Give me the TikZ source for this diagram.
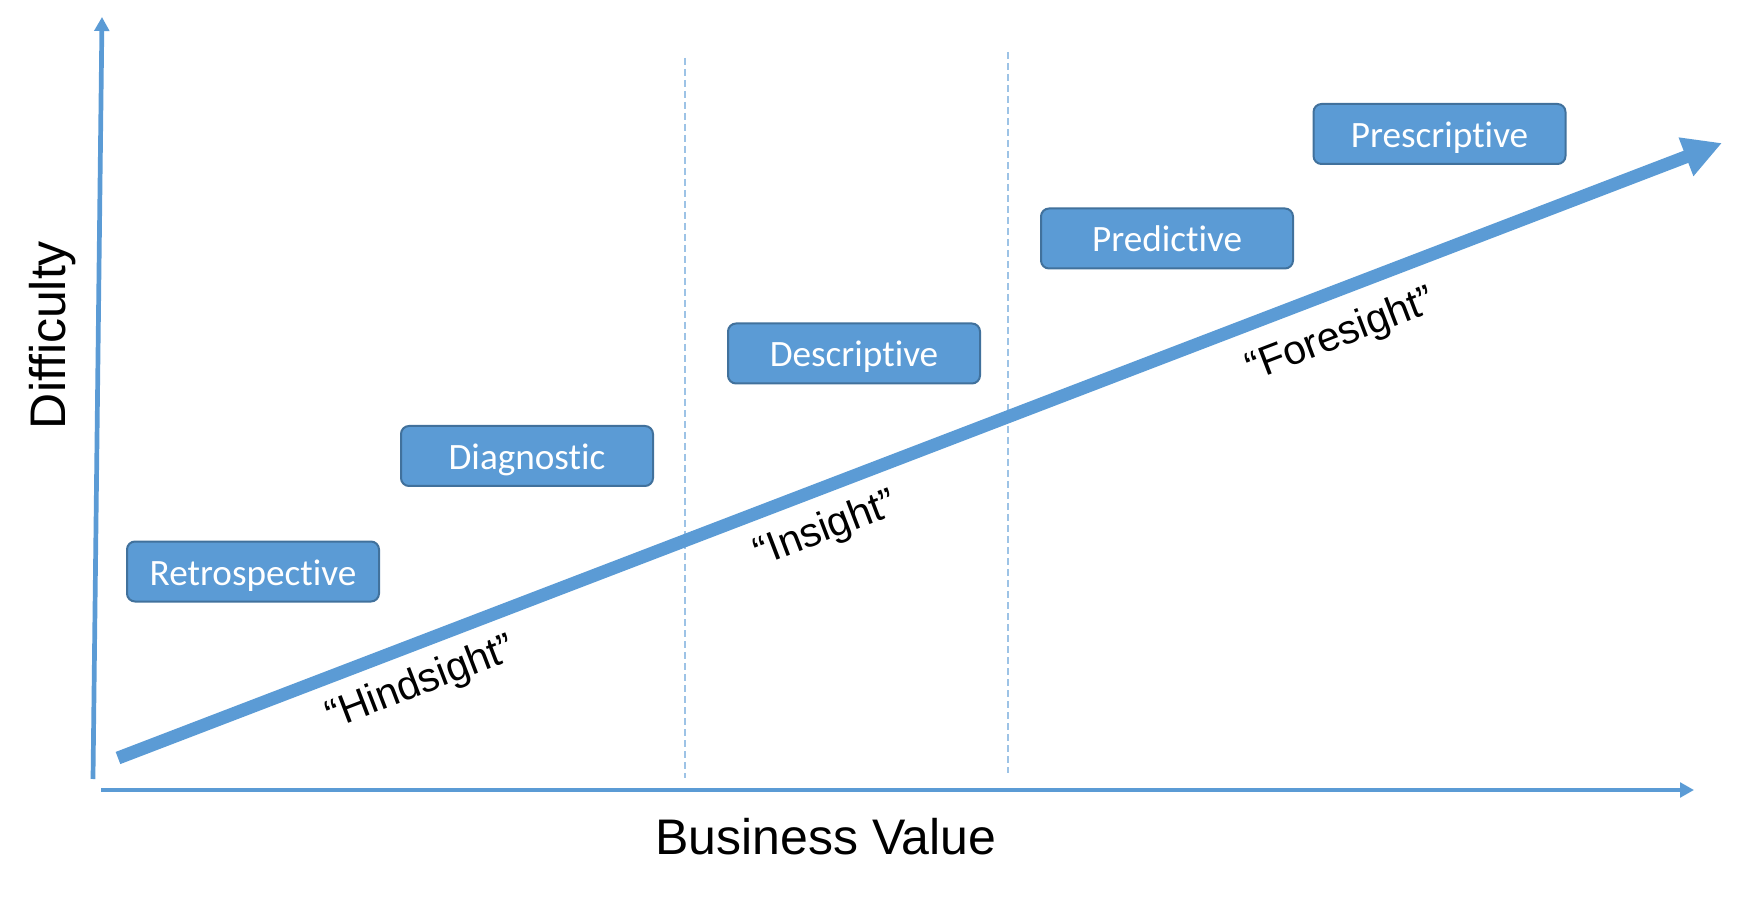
\documentclass[tikz,border=0pt]{standalone}
\usepackage{fontspec}
\setmainfont[Ligatures={TeX,NoCommon}]{Liberation Sans}
\newfontfamily\stagefont[Ligatures={NoCommon,NoContextual,NoRare}]{Carlito}
\usetikzlibrary{arrows.meta}
\definecolor{officeblue}{HTML}{5B9BD5}
\definecolor{officeedge}{HTML}{41719C}
\definecolor{dividerblue}{HTML}{9DC3E6}
\tikzstyle{stage}=[rectangle,rounded corners=4pt,draw=officeedge,line width=1pt,fill=officeblue,text=white,
    minimum width=126pt,minimum height=30pt,inner sep=0pt,text height=16pt,text depth=2.5pt,
    font=\stagefont\fontsize{18.6}{22}\selectfont]
\tikzstyle{axis}=[officeblue,line width=2.35pt,-{Triangle[length=7pt,width=7.3pt]}]
\tikzstyle{trend}=[officeblue,line width=6.5pt,-{Triangle[length=19.3pt,width=19.3pt]}]
\tikzstyle{divider}=[dividerblue,line width=0.8pt,dash pattern=on 3.6pt off 1.9pt]
\tikzstyle{sight}=[font=\fontsize{20.5}{24}\selectfont,rotate=21]
\tikzstyle{axislabel}=[font=\fontsize{25}{30}\selectfont,anchor=base]

\begin{document}
\begin{tikzpicture}[x=0.5pt,y=-0.5pt]
    \useasboundingbox (0,0) rectangle (1760,897);

    % Define named coordinates
    \coordinate (origin) at (93,779);
    \coordinate (ytip) at (102,17);
    \coordinate (xstart) at (101,790);
    \coordinate (xtip) at (1694,790);
    \coordinate (trendstart) at (118,758);
    \coordinate (trendtip) at (1722,143);
    \coordinate (divAtop) at (685,58);
    \coordinate (divAbot) at (685,778);
    \coordinate (divBtop) at (1008,52);
    \coordinate (divBbot) at (1008,773);

    % Axes and their labels
    \draw[axis] (origin) -- (ytip);
    \draw[axis] (xstart) -- (xtip);
    \node[axislabel,rotate=90] (difficulty) at (65,335) {Difficulty};
    \node[axislabel] (value) at (826,854) {Business Value};

    % Dashed dividers
    \draw[divider] (divAtop) -- (divAbot);
    \draw[divider] (divBtop) -- (divBbot);

    % Trend arrow with the three sights
    \draw[trend] (trendstart) -- (trendtip);
    \node[sight] (hindsight) at (421,684) {“Hindsight”};
    \node[sight] (insight) at (826,530) {“Insight”};
    \node[sight] (foresight) at (1341,336) {“Foresight”};

    % Analytics stages
    \node[stage] (retro) at (253,571.5) {Retrospective};
    \node[stage] (diag) at (527,456) {Diagnostic};
    \node[stage] (desc) at (854,353.5) {Descriptive};
    \node[stage] (pred) at (1167,238.5) {Predictive};
    \node[stage] (presc) at (1439.5,134) {Prescriptive};
\end{tikzpicture}
\end{document}
